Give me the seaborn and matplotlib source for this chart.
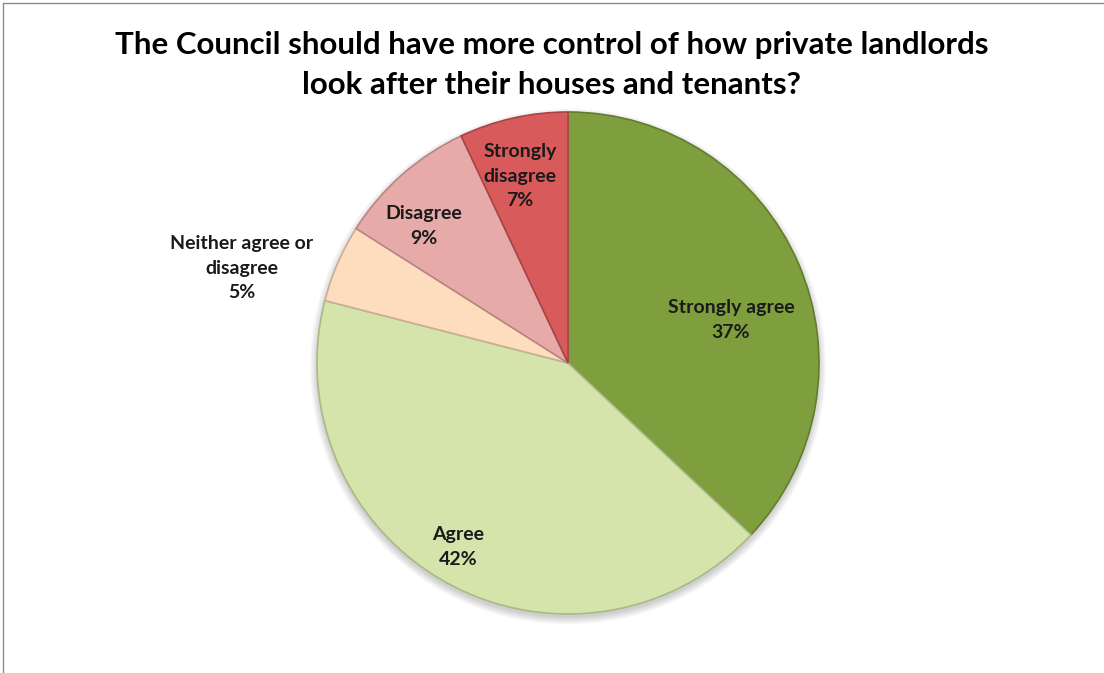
import matplotlib
matplotlib.use("Agg")
import matplotlib.pyplot as plt
from matplotlib.lines import Line2D
from matplotlib.patches import Wedge
import seaborn as sns

sns.set_theme(style="white")
plt.rcParams['font.family'] = ['Lato', 'DejaVu Sans']

# Survey responses
categories = ["Strongly agree", "Agree", "Neither agree or\ndisagree", "Disagree", "Strongly\ndisagree"]
shares = [37, 42, 5, 9, 7]
colors = ["#7F9F3E", "#D4E4AA", "#FDDDBD", "#E6AAA9", "#D95A5B"]
edge_colors = ["#637C2E", "#A9B987", "#C9AE94", "#B98584", "#A84446"]
title = "The Council should have more control of how private landlords\nlook after their houses and tenants?"

# label anchors (axes data units, pie radius = 1)
label_pos = [(0.649, 0.171), (-0.438, -0.733), (-1.299, 0.378), (-0.574, 0.546), (-0.191, 0.745)]

W, H = 1104, 673
fig = plt.figure(figsize=(W / 100, H / 100), dpi=100)
cx, cy, r = 568, 363, 251
ax = fig.add_axes([(cx - r) / W, (H - cy - r) / H, 2 * r / W, 2 * r / H])
ax.axis("off")

# soft drop shadow below the pie
for i in range(8):
    ax.add_patch(Wedge((0, -0.014), 1.0 + 0.004 * i, 0, 360,
                       facecolor="#000000", alpha=0.022, linewidth=0, zorder=0,
                       clip_on=False))

wedges, _ = ax.pie(shares, colors=colors, startangle=90, counterclock=False,
                   radius=1.0, wedgeprops=dict(linewidth=1.2))
for w, ec in zip(wedges, edge_colors):
    w.set_edgecolor(ec)
    w.set_zorder(2)

ax.set_xlim(-1, 1)
ax.set_ylim(-1, 1)
ax.set_aspect("equal")

for lab, val, (x, y) in zip(categories, shares, label_pos):
    ax.text(x, y, f"{lab}\n{val}%", ha="center", va="center", fontsize=14,
            fontweight="bold", color="#1a1a1a", linespacing=1.55, zorder=3,
            clip_on=False)

fig.text(0.5, 1 - 65 / H, title, ha="center", va="center", fontsize=22.5,
         fontweight="bold", color="#000000", linespacing=1.5)

# chart frame (top and left edges)
fig.add_artist(Line2D([3 / W, 3 / W], [0, 1 - 3 / H], color="#8a8a8a", linewidth=1))
fig.add_artist(Line2D([3 / W, 1], [1 - 3 / H, 1 - 3 / H], color="#8a8a8a", linewidth=1))

fig.savefig("out.png", dpi=100, facecolor="white")
